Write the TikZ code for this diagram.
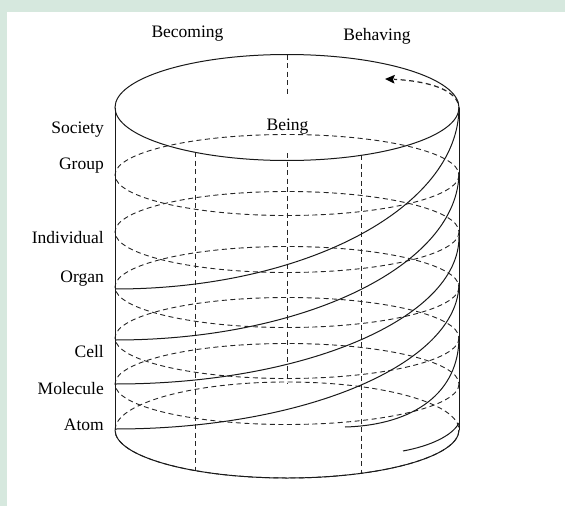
\documentclass[tikz,border=0pt]{standalone}
\usepackage{fontspec}
\setmainfont{Liberation Serif}
\usetikzlibrary{arrows.meta}
\definecolor{pale}{RGB}{214,232,222}

\begin{document}
\begin{tikzpicture}[x=1pt,y=-1pt,
	rim/.style={line width=1pt,black!90},
	hidden/.style={line width=.9pt,black!85,dash pattern=on 5pt off 3.5pt},
	level/.style={anchor=base east,inner sep=0pt,font=\fontsize{17.5}{20}\selectfont},
	aspect/.style={anchor=base,inner sep=0pt,font=\fontsize{17.5}{20}\selectfont}]
	\fill[pale] (0,0) rectangle (565,506);
	\fill[white] (7,12) rectangle (565,506);
	\useasboundingbox (0,0) rectangle (565,506);
	\foreach \y in {175,232,287,338,384}
		\draw[hidden] (287,\y) ellipse[x radius=172,y radius=40.5];
	\draw[hidden] (287,430) ellipse[x radius=172,y radius=48];
	\draw[hidden] (287,54.5) -- (287,96);
	\draw[hidden] (287,153) -- (287,384);
	\draw[hidden] (195,152) -- (195,470);
	\draw[hidden] (361,155) -- (361,473);
	\draw[rim] (287,107.5) ellipse[x radius=172,y radius=53];
	\draw[rim] (115,107.5) -- (115,430);
	\draw[rim] (459,107.5) -- (459,430);
	\draw[rim] (115,430) arc[start angle=180,end angle=0,x radius=172,y radius=48];
	\foreach \a/\b [evaluate=\a as \r using \a-\b] in {289/107,340/172,384/237,429/283}
		\draw[rim] (115,\a) arc[start angle=90,end angle=0,x radius=344,y radius=\r];
	\draw[rim] (345,427) .. controls (415,425) and (459,392) .. (459,337);
	\draw[rim] (403,451) .. controls (430,446) and (452,436) .. (459,423);
	\draw[hidden,line width=1.2pt] (458,103) .. controls (452,88) and (425,81) .. (394,79.3);
	\fill[black] (385,79) -- (395,74.8) -- (393,79.4) -- (394.5,83.6) -- cycle;
	\node[aspect] (becoming) at (187.5,37) {Becoming};
	\node[aspect] (behaving) at (377,40.5) {Behaving};
	\node[aspect] (being) at (287.5,130) {Being};
	\node[level] (society) at (104,133) {Society};
	\node[level] (group) at (104,169) {Group};
	\node[level] (individual) at (104,243) {Individual};
	\node[level] (organ) at (104,282) {Organ};
	\node[level] (cell) at (104,357) {Cell};
	\node[level] (molecule) at (104,394) {Molecule};
	\node[level] (atom) at (104,430.5) {Atom};
\end{tikzpicture}
\end{document}
